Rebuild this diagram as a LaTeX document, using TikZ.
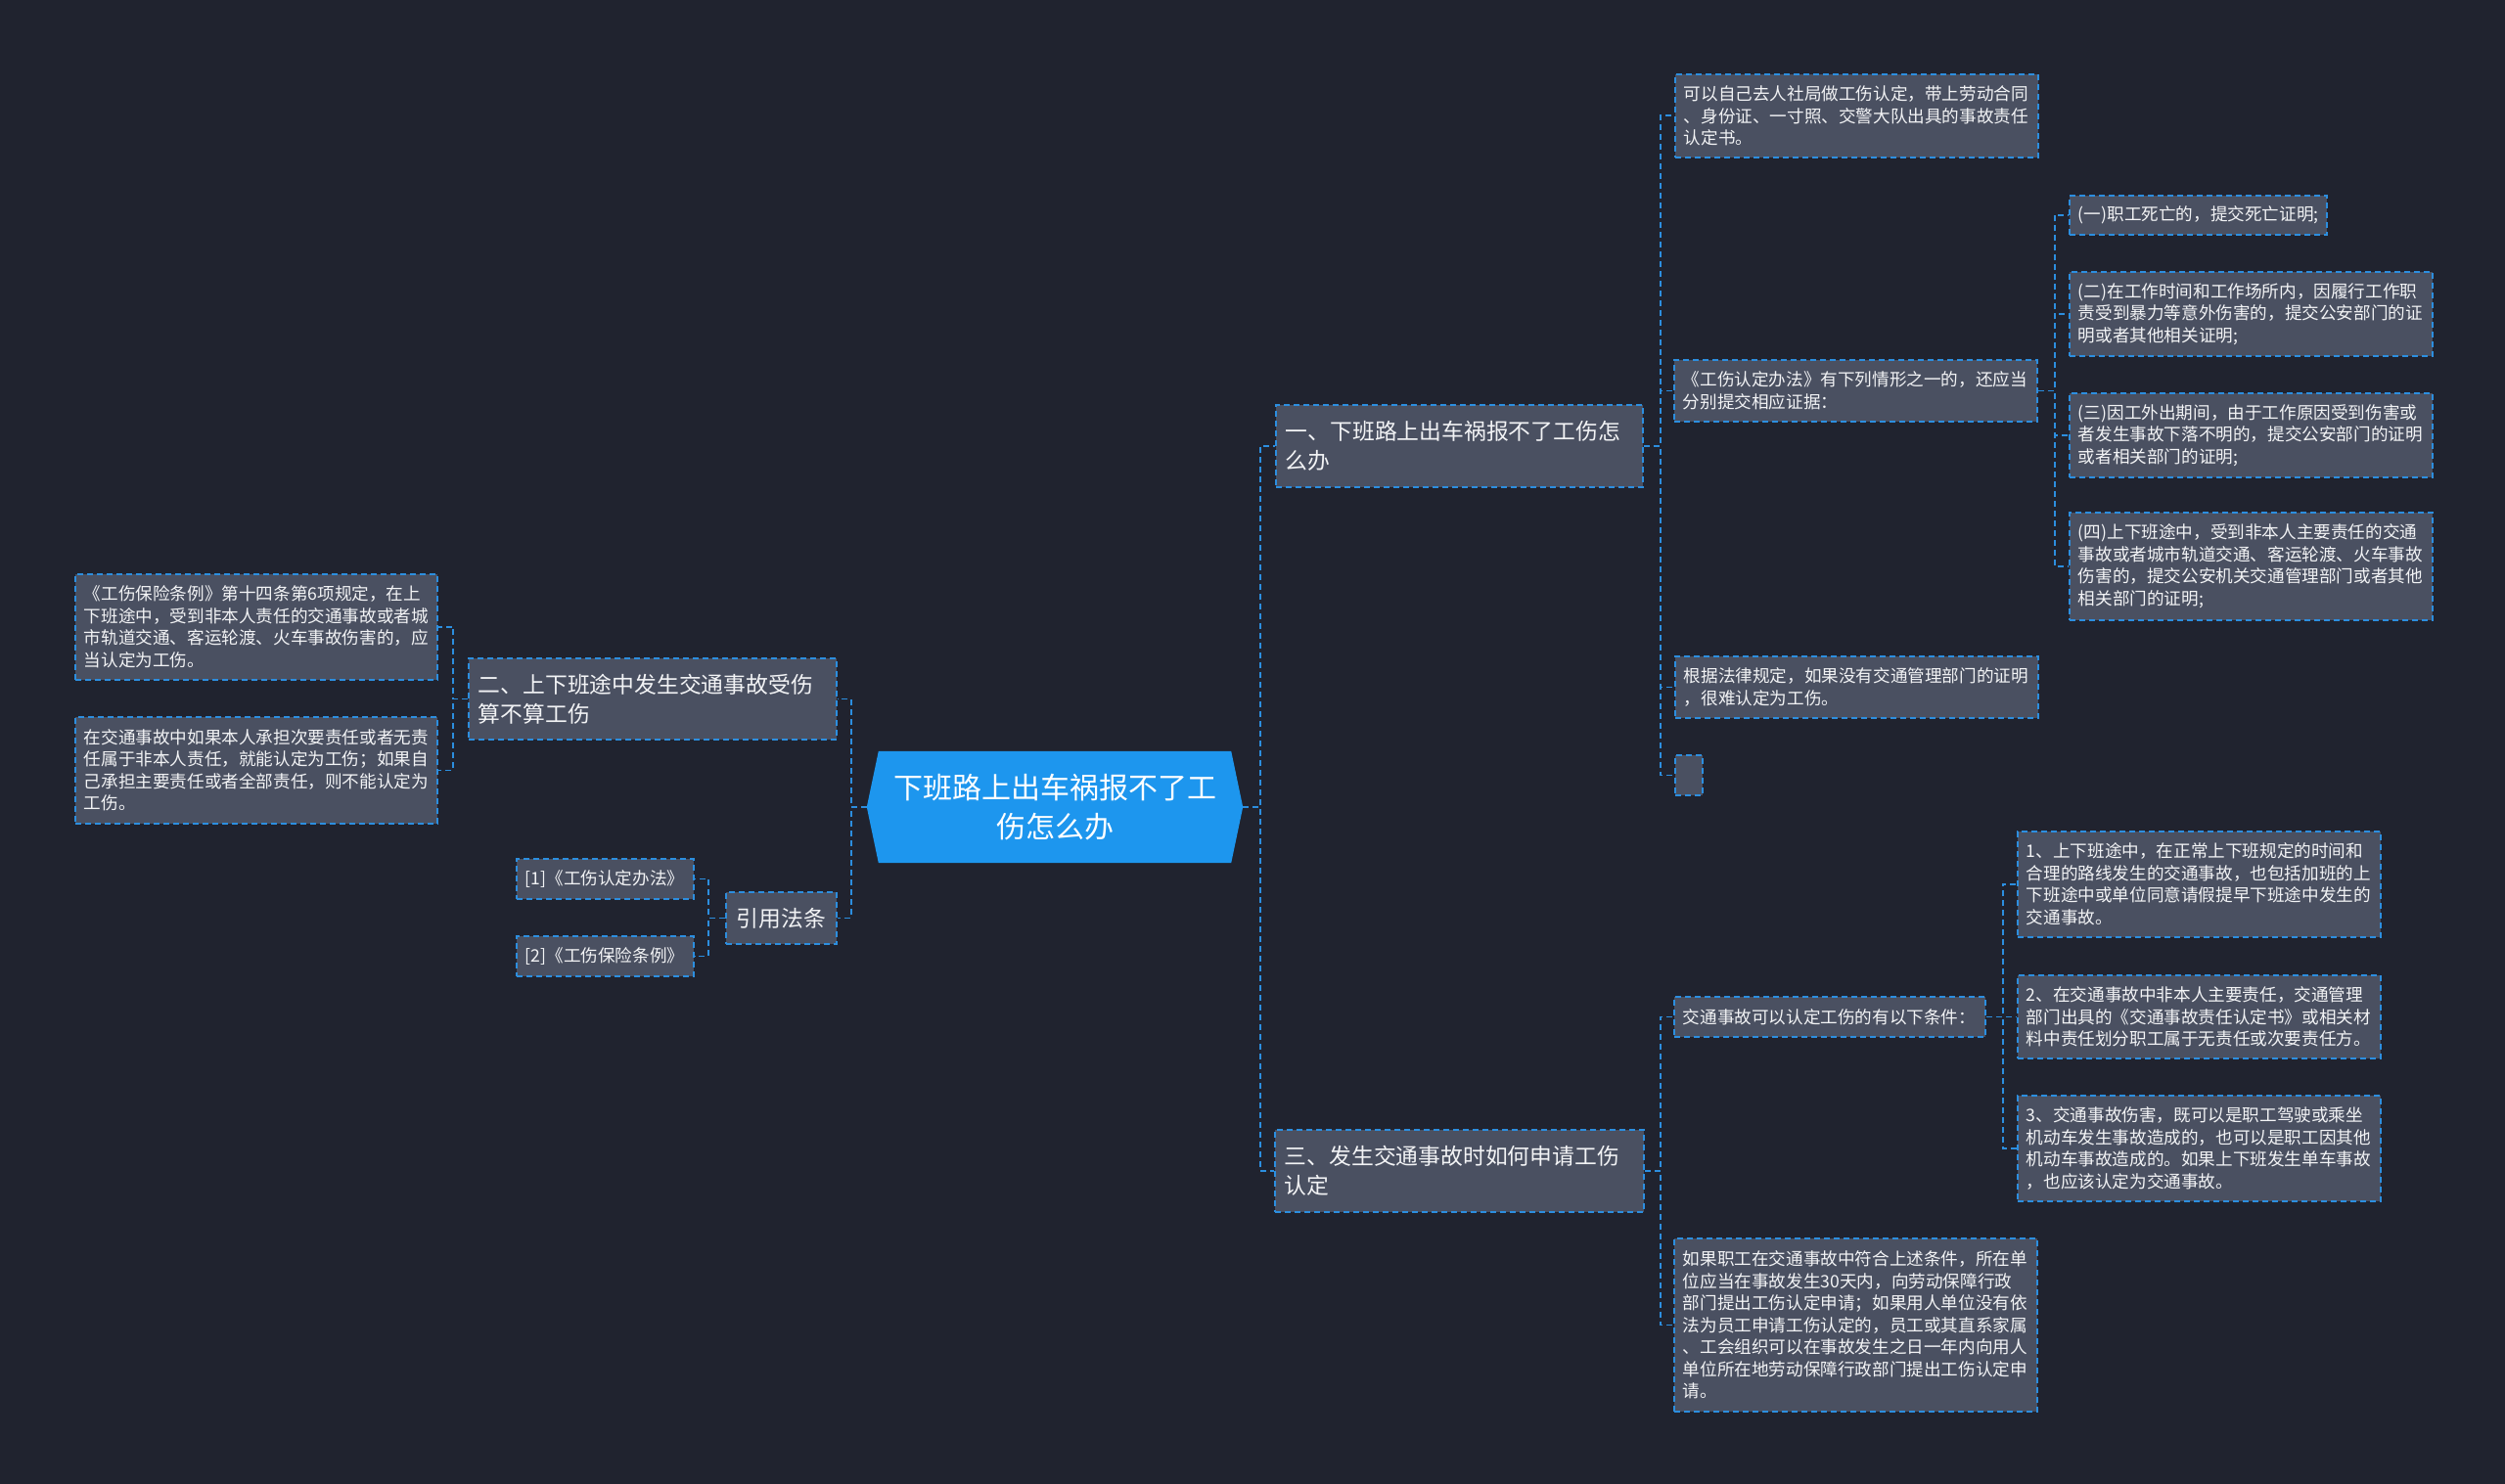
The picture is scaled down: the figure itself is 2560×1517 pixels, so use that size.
\documentclass[tikz,border=0pt]{standalone}
\usepackage{fontspec}
\newfontfamily\cjk{Noto Sans CJK SC}
\usetikzlibrary{backgrounds}
\definecolor{bg}{HTML}{20232F}
\definecolor{nodegray}{HTML}{4A5061}
\definecolor{lineblue}{HTML}{2C8EDF}
\definecolor{rootblue}{HTML}{1D96EE}
\definecolor{txt}{HTML}{F2F3F5}
\begin{document}
\begin{tikzpicture}[x=1pt,y=-1pt,
 box/.style={draw=lineblue, fill=nodegray, line width=1.8pt, dash pattern=on 6pt off 4pt, anchor=north west, inner xsep=9pt, inner ysep=0pt, align=left, text=txt},
 leaf/.style={box, font=\cjk\fontsize{17.6}{22.5}\selectfont},
 branch/.style={box, inner xsep=10pt, font=\cjk\fontsize{22.8}{30}\selectfont},
 conn/.style={draw=lineblue, line width=1.8pt, dash pattern=on 6pt off 4pt}
]
% root
\node[minimum width=384pt, minimum height=114pt, inner sep=0pt, align=center, text width=350pt, text=white, font=\cjk\fontsize{30}{40}\selectfont] (root) at (1078,825) {下班路上出车祸报不了工\\伤怎么办};
\begin{scope}[on background layer]
\fill[bg] (0,0) rectangle (2560,1517);
\fill[rootblue] (root.west) -- ([xshift=12pt]root.north west) -- ([xshift=-12pt]root.north east) -- (root.east) -- ([xshift=-12pt]root.south east) -- ([xshift=12pt]root.south west) -- cycle;
\end{scope}

% branches
\node[branch, text width=355pt, minimum height=84pt] (b1) at (1303,413) {一、下班路上出车祸报不了工伤怎\\么办};
\node[branch, text width=356pt, minimum height=83pt] (b2) at (478,672) {二、上下班途中发生交通事故受伤\\算不算工伤};
\node[branch, text width=357pt, minimum height=84pt] (b3) at (1302,1154) {三、发生交通事故时如何申请工伤\\认定};
\node[branch, text width=93pt, align=center, minimum height=53pt] (ref) at (741,911) {引用法条};

% branch 1 children
\node[leaf, text width=353pt, minimum height=85pt] (A) at (1711,75) {可以自己去人社局做工伤认定，带上劳动合同\\、身份证、一寸照、交警大队出具的事故责任\\认定书。};
\node[leaf, text width=353pt, minimum height=63pt] (B) at (1710,367) {《工伤认定办法》有下列情形之一的，还应当\\分别提交相应证据：};
\node[leaf, text width=353pt, minimum height=63pt] (C) at (1711,670) {根据法律规定，如果没有交通管理部门的证明\\，很难认定为工伤。};
\node[leaf, text width=10pt, minimum height=41pt] (D) at (1711,771) {};

\node[leaf, text width=245pt, minimum height=40pt] (c1) at (2114,199) {(一)职工死亡的，提交死亡证明;};
\node[leaf, text width=353pt, minimum height=86pt] (c2) at (2114,277) {(二)在工作时间和工作场所内，因履行工作职\\责受到暴力等意外伤害的，提交公安部门的证\\明或者其他相关证明;};
\node[leaf, text width=353pt, minimum height=86pt] (c3) at (2114,401) {(三)因工外出期间，由于工作原因受到伤害或\\者发生事故下落不明的，提交公安部门的证明\\或者相关部门的证明;};
\node[leaf, text width=353pt, minimum height=110pt] (c4) at (2114,523) {(四)上下班途中，受到非本人主要责任的交通\\事故或者城市轨道交通、客运轮渡、火车事故\\伤害的，提交公安机关交通管理部门或者其他\\相关部门的证明;};

% branch 2 children
\node[leaf, text width=352pt, minimum height=108pt] (E) at (76,586) {《工伤保险条例》第十四条第6项规定，在上\\下班途中，受到非本人责任的交通事故或者城\\市轨道交通、客运轮渡、火车事故伤害的，应\\当认定为工伤。};
\node[leaf, text width=352pt, minimum height=109pt] (F) at (76,732) {在交通事故中如果本人承担次要责任或者无责\\任属于非本人责任，就能认定为工伤；如果自\\己承担主要责任或者全部责任，则不能认定为\\工伤。};

% references
\node[leaf, text width=163pt, minimum height=41pt] (r1) at (527,877) {[1]《工伤认定办法》};
\node[leaf, text width=163pt, minimum height=41pt] (r2) at (527,956) {[2]《工伤保险条例》};

% branch 3 children
\node[leaf, text width=300pt, minimum height=41pt] (H) at (1710,1018) {交通事故可以认定工伤的有以下条件：};
\node[leaf, text width=353pt, minimum height=108pt] (n1) at (2061,849) {1、上下班途中，在正常上下班规定的时间和\\合理的路线发生的交通事故，也包括加班的上\\下班途中或单位同意请假提早下班途中发生的\\交通事故。};
\node[leaf, text width=353pt, minimum height=85pt] (n2) at (2061,996) {2、在交通事故中非本人主要责任，交通管理\\部门出具的《交通事故责任认定书》或相关材\\料中责任划分职工属于无责任或次要责任方。};
\node[leaf, text width=353pt, minimum height=108pt] (n3) at (2061,1119) {3、交通事故伤害，既可以是职工驾驶或乘坐\\机动车发生事故造成的，也可以是职工因其他\\机动车事故造成的。如果上下班发生单车事故\\，也应该认定为交通事故。};
\node[leaf, text width=353pt, minimum height=177pt] (G) at (1710,1265) {如果职工在交通事故中符合上述条件，所在单\\位应当在事故发生30天内，向劳动保障行政\\部门提出工伤认定申请；如果用人单位没有依\\法为员工申请工伤认定的，员工或其直系家属\\、工会组织可以在事故发生之日一年内向用人\\单位所在地劳动保障行政部门提出工伤认定申\\请。};

% connectors
\draw[conn] (root.east) -- ++(18,0) |- (b1.west);
\draw[conn] (root.east) -- ++(18,0) |- (b3.west);
\draw[conn] (root.west) -- ++(-16,0) |- (b2.east);
\draw[conn] (root.west) -- ++(-16,0) |- (ref.east);
\foreach \c in {A,B,C,D} \draw[conn] (b1.east) -- ++(17,0) |- (\c.west);
\foreach \c in {c1,c2,c3,c4} \draw[conn] (B.east) -- ++(17,0) |- (\c.west);
\foreach \c in {E,F} \draw[conn] (b2.west) -- ++(-15,0) |- (\c.east);
\foreach \c in {r1,r2} \draw[conn] (ref.west) -- ++(-17,0) |- (\c.east);
\foreach \c in {H,G} \draw[conn] (b3.east) -- ++(16,0) |- (\c.west);
\foreach \c in {n1,n2,n3} \draw[conn] (H.east) -- ++(17,0) |- (\c.west);
\end{tikzpicture}
\end{document}
